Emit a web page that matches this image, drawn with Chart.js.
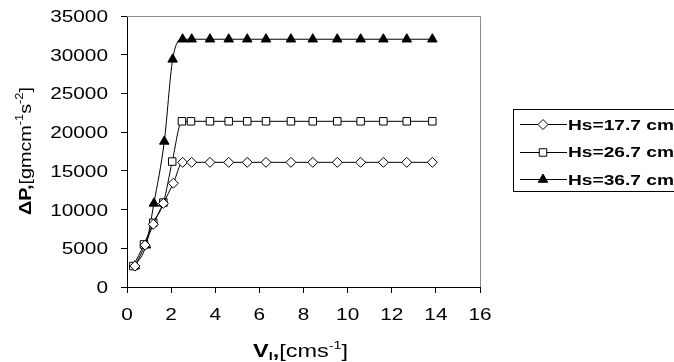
<!DOCTYPE html>
<html>
<head>
<meta charset="utf-8">
<script src="https://cdn.jsdelivr.net/npm/chart.js@4.4.0/dist/chart.umd.min.js"></script>
<style>
    html, body { margin: 0; padding: 0; background: #fff; }
    canvas { display: block; }
</style>
</head>
<body>
<canvas id="pressureChart" width="674" height="362"></canvas>
<script>
const xTicks = [0, 2, 4, 6, 8, 10, 12, 14, 16]
const yTicks = [0, 5000, 10000, 15000, 20000, 25000, 30000, 35000]
const seriesNames = ['Hs=17.7 cm', 'Hs=26.7 cm', 'Hs=36.7 cm']

const velocity177 = [0.36, 0.82, 1.19, 1.65, 2.1, 2.52, 2.93, 3.76, 4.61, 5.45, 6.3, 7.43, 8.42, 9.53, 10.59, 11.62, 12.68, 13.84]
const pressure177 = [2700, 5400, 8100, 10800, 13400, 16100, 16100, 16100, 16100, 16100, 16100, 16100, 16100, 16100, 16100, 16100, 16100, 16100]

const velocity267 = [0.29, 0.77, 1.19, 1.65, 2.05, 2.49, 2.9, 3.76, 4.61, 5.45, 6.3, 7.43, 8.42, 9.53, 10.59, 11.62, 12.68, 13.84]
const pressure267 = [2700, 5500, 8300, 10900, 16200, 21400, 21400, 21400, 21400, 21400, 21400, 21400, 21400, 21400, 21400, 21400, 21400, 21400]

const velocity367 = [0.36, 0.86, 1.22, 1.69, 2.07, 2.52, 2.93, 3.76, 4.61, 5.45, 6.3, 7.43, 8.42, 9.53, 10.59, 11.62, 12.68, 13.84]
const pressure367 = [2700, 5400, 10800, 18800, 29400, 32000, 32000, 32000, 32000, 32000, 32000, 32000, 32000, 32000, 32000, 32000, 32000, 32000]

const fontName = '"Liberation Sans", Arial, sans-serif'
const toPoints = (xs, ys) => xs.map((x, i) => ({ x: x, y: ys[i] }))

// draws a run of text pieces, stretched horizontally (sx) or fitted to a width
const drawRich = (ctx, parts, x, y, opts) => {
    let total = 0
    parts.forEach(p => {
        ctx.font = p.font
        p.w = ctx.measureText(p.t).width
        total += p.w
    })
    const sx = opts.width ? opts.width / total : (opts.sx || 1)
    let cx = opts.align === 'right' ? -total : opts.align === 'center' ? -total / 2 : 0
    ctx.save()
    ctx.translate(x, y)
    ctx.scale(sx, 1)
    ctx.fillStyle = '#000'
    ctx.textAlign = 'left'
    ctx.textBaseline = 'alphabetic'
    parts.forEach(p => {
        ctx.font = p.font
        ctx.fillText(p.t, cx, p.dy || 0)
        cx += p.w
    })
    ctx.restore()
}

const decorations = {
    id: 'decorations',
    beforeDatasetsDraw(chart) {
        const ctx = chart.ctx
        const a = chart.chartArea
        ctx.save()
        ctx.strokeStyle = '#8c8c8c'
        ctx.lineWidth = 1
        ctx.beginPath()
        ctx.moveTo(a.left, Math.round(a.top) + 0.5)
        ctx.lineTo(Math.round(a.right) + 0.5, Math.round(a.top) + 0.5)
        ctx.lineTo(Math.round(a.right) + 0.5, a.bottom)
        ctx.stroke()
        ctx.restore()
    },
    afterDraw(chart) {
        const ctx = chart.ctx
        const xs = chart.scales.x
        const ys = chart.scales.y
        const tickFont = '16px ' + fontName

        xs.ticks.forEach(t => {
            drawRich(ctx, [{ t: String(t.value), font: tickFont }], xs.getPixelForValue(t.value), 320, { sx: 1.3, align: 'center' })
        })
        ys.ticks.forEach(t => {
            drawRich(ctx, [{ t: String(t.value), font: tickFont }], 108, ys.getPixelForValue(t.value) + 6, { sx: 1.3, align: 'right' })
        })

        // axis titles
        drawRich(ctx, [
            { t: 'V', font: 'bold 18px ' + fontName },
            { t: 'l', font: 'bold 11px ' + fontName, dy: 3 },
            { t: ',', font: 'bold 18px ' + fontName },
            { t: '[cms', font: '18px ' + fontName },
            { t: '-1', font: '11px ' + fontName, dy: -8 },
            { t: ']', font: '18px ' + fontName }
        ], 253, 357, { width: 95 })

        ctx.save()
        ctx.translate(31, 215)
        ctx.rotate(-Math.PI / 2)
        drawRich(ctx, [
            { t: '\u0394P,', font: 'bold 17px ' + fontName },
            { t: '[gmcm', font: '17px ' + fontName },
            { t: '-1', font: '11px ' + fontName, dy: -8 },
            { t: 's', font: '17px ' + fontName },
            { t: '-2', font: '11px ' + fontName, dy: -8 },
            { t: ']', font: '17px ' + fontName }
        ], 0, 0, { width: 128 })
        ctx.restore()

        // legend
        ctx.save()
        ctx.strokeStyle = '#000'
        ctx.lineWidth = 1
        ctx.strokeRect(513.5, 109.5, 200, 82)
        const rowY = [124, 151.5, 179]
        chart.data.datasets.forEach((ds, i) => {
            const y = rowY[i]
            ctx.strokeStyle = '#000'
            ctx.beginPath()
            ctx.moveTo(520, Math.round(y) + 0.5)
            ctx.lineTo(567, Math.round(y) + 0.5)
            ctx.stroke()
            ctx.fillStyle = ds.pointBackgroundColor
            ctx.strokeStyle = ds.pointBorderColor
            Chart.helpers.drawPoint(ctx, { pointStyle: ds.pointStyle, radius: ds.pointRadius, borderWidth: 1, rotation: 0 }, 543, Math.round(y) + 0.5)
            drawRich(ctx, [{ t: seriesNames[i], font: 'bold 15px ' + fontName }], 568, y + 5.5, { width: 106 })
        })
        ctx.restore()
    }
}

const lineStyle = {
    showLine: true,
    borderColor: '#000',
    borderWidth: 1,
    pointBorderColor: '#000',
    pointBorderWidth: 1,
    cubicInterpolationMode: 'monotone'
}

new Chart(document.getElementById('pressureChart'), {
    type: 'scatter',
    data: {
        datasets: [
            Object.assign({
                label: seriesNames[0],
                data: toPoints(velocity177, pressure177),
                pointStyle: 'rectRot',
                pointRadius: 5,
                pointBackgroundColor: '#fff'
            }, lineStyle),
            Object.assign({
                label: seriesNames[1],
                data: toPoints(velocity267, pressure267),
                pointStyle: 'rect',
                pointRadius: 5.3,
                pointBackgroundColor: '#fff'
            }, lineStyle),
            Object.assign({
                label: seriesNames[2],
                data: toPoints(velocity367, pressure367),
                pointStyle: 'triangle',
                pointRadius: 5.5,
                pointBackgroundColor: '#000'
            }, lineStyle)
        ]
    },
    options: {
        responsive: false,
        animation: false,
        devicePixelRatio: 1,
        layout: { padding: { top: 16, right: 194, left: 0, bottom: 0 } },
        plugins: {
            legend: { display: false },
            tooltip: { enabled: false }
        },
        scales: {
            x: {
                type: 'linear',
                min: 0,
                max: 16,
                afterBuildTicks: scale => { scale.ticks = xTicks.map(v => ({ value: v })) },
                afterFit: scale => { scale.height = 75 },
                ticks: { display: false },
                grid: { drawOnChartArea: false, drawTicks: true, tickLength: 6, color: '#000' },
                border: { color: '#000', width: 1 }
            },
            y: {
                min: 0,
                max: 35000,
                afterBuildTicks: scale => { scale.ticks = yTicks.map(v => ({ value: v })) },
                afterFit: scale => { scale.width = 127 },
                ticks: { display: false },
                grid: { drawOnChartArea: false, drawTicks: true, tickLength: 6, color: '#000' },
                border: { color: '#000', width: 1 }
            }
        }
    },
    plugins: [decorations]
});
</script>
</body>
</html>
